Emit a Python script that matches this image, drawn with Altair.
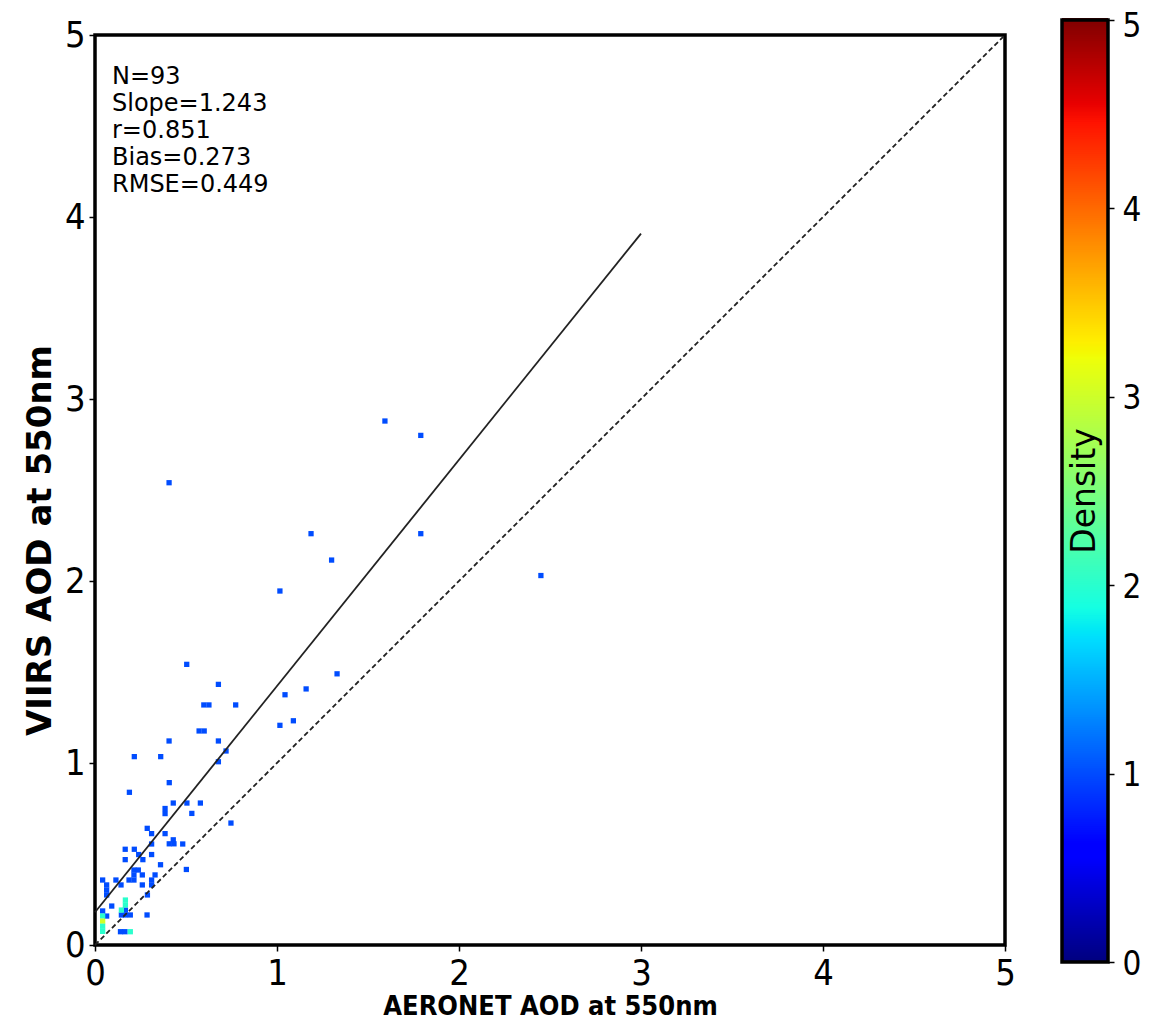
import altair as alt
import pandas as pd

# ---- data (cell centres of the 2-D density histogram) ----
cell_x = [1.593, 1.79, 0.407, 1.187, 1.79, 1.30, 2.45, 1.016, 0.504, 1.33,
          0.678, 1.16, 1.044, 0.598, 0.626, 0.773, 1.09, 1.016, 0.572, 0.600,
          0.678, 0.407, 0.72, 0.678, 0.216, 0.361, 0.408, 0.189, 0.43, 0.505,
          0.579, 0.385, 0.385, 0.532, 0.747, 0.287, 0.311, 0.385, 0.43, 0.408,
          0.434, 0.482, 0.311, 0.166, 0.216, 0.24, 0.311, 0.166, 0.263, 0.36,
          0.502, 0.214, 0.238, 0.214, 0.26, 0.33, 0.187, 0.214, 0.311, 0.311,
          0.26, 0.042, 0.064, 0.064, 0.064, 0.115, 0.143, 0.288, 0.092, 0.042,
          0.064, 0.167, 0.145, 0.167, 0.194, 0.286, 0.14, 0.165,
          0.042, 0.042, 0.042, 0.042, 0.167, 0.167, 0.145, 0.194]
cell_y = [2.879, 2.80, 2.54, 2.26, 2.26, 2.115, 2.03, 1.945, 1.542, 1.49,
          1.432, 1.407, 1.375, 1.319, 1.319, 1.319, 1.232, 1.207, 1.176, 1.176,
          1.121, 1.121, 1.066, 1.007, 1.035, 1.035, 0.892, 0.839, 0.78, 0.78,
          0.78, 0.75, 0.722, 0.723, 0.67, 0.641, 0.612, 0.612, 0.578, 0.556,
          0.556, 0.555, 0.555, 0.526, 0.526, 0.497, 0.497, 0.469, 0.469, 0.441,
          0.415, 0.412, 0.412, 0.385, 0.385, 0.385, 0.357, 0.357, 0.357, 0.33,
          0.33, 0.357, 0.33, 0.302, 0.275, 0.357, 0.33, 0.275, 0.214, 0.187,
          0.159, 0.192, 0.165, 0.165, 0.165, 0.165, 0.073, 0.073,
          0.159, 0.131, 0.103, 0.075, 0.247, 0.22, 0.192, 0.073]
cell_n = [1] * 78 + [2, 3, 2, 2, 2, 2, 2, 2]

fit_x = [0.0, 3.0]
fit_y = [0.18, 3.909]
one_x = [0.0, 5.0]
one_y = [0.0, 5.0]
tick_vals = [0, 1, 2, 3, 4, 5]
stat_lines = ["N=93", "Slope=1.243", "r=0.851", "Bias=0.273", "RMSE=0.449"]
BIN = 0.029

jet_domain = [0, 0.55, 0.625, 1.7, 1.75, 1.875, 3.2, 3.25, 3.3, 4.45, 4.55, 5]
jet_range = ["#000080", "#0000ff", "#0000ff", "#00dbff", "#00e6f7", "#15ffe2",
             "#efff08", "#f7f500", "#ffec00", "#ff1300", "#e80000", "#800000"]

FONT = "DejaVu Sans Condensed, DejaVu Sans"

jet = alt.Scale(domain=jet_domain, range=jet_range, type="linear", interpolate="rgb")
xs = alt.Scale(domain=[0, 5], nice=False, zero=False)
ys = alt.Scale(domain=[0, 5], nice=False, zero=False)

xaxis = alt.Axis(values=tick_vals, format="d", title="AERONET AOD at 550nm",
                 labelFontSize=36, labelFont=FONT, labelPadding=5, labelFlush=False,
                 titleFont=FONT, titleFontSize=27, titleFontWeight="bold",
                 titleY=69, titleBaseline="alphabetic")
yaxis = alt.Axis(values=tick_vals, format="d", title="VIIRS AOD at 550nm",
                 labelFontSize=36, labelFont=FONT, labelPadding=4, labelFlush=False,
                 titleFont="DejaVu Sans", titleFontSize=34, titleFontWeight="bold",
                 titleX=-45, titleY=505, titleBaseline="alphabetic", titleAngle=270)

cells_df = pd.DataFrame({"x": cell_x, "y": cell_y, "n": cell_n})
cells = alt.Chart(cells_df).transform_calculate(
    x0=f"datum.x - {BIN/2}", x1=f"datum.x + {BIN/2}",
    y0=f"datum.y - {BIN/2}", y1=f"datum.y + {BIN/2}",
).mark_rect().encode(
    x=alt.X("x0:Q", scale=xs, axis=xaxis),
    x2="x1:Q",
    y=alt.Y("y0:Q", scale=ys, axis=yaxis),
    y2="y1:Q",
    color=alt.Color("n:Q", scale=jet, legend=None),
)

one = alt.Chart(pd.DataFrame({"x": one_x, "y": one_y})).mark_line(
    color="#222222", strokeWidth=1.8, strokeDash=[5, 3]
).encode(x=alt.X("x:Q", axis=xaxis), y=alt.Y("y:Q", axis=yaxis))

fit = alt.Chart(pd.DataFrame({"x": fit_x, "y": fit_y})).mark_line(
    color="#222222", strokeWidth=1.8
).encode(x=alt.X("x:Q", axis=xaxis), y=alt.Y("y:Q", axis=yaxis))

stats = alt.Chart(pd.DataFrame({"t": ["\n".join(stat_lines)]})).mark_text(
    align="left", baseline="alphabetic", lineBreak="\n", lineHeight=27,
    fontSize=24, font="DejaVu Sans", color="black"
).encode(x=alt.value(17), y=alt.value(49), text="t:N")

main = alt.layer(cells, one, fit, stats)

# ---- colour bar ----
cb_scale = alt.Scale(domain=[0, 5], range=[927, -15], nice=False, zero=False)
cb_axis = alt.Axis(orient="right", offset=103, values=tick_vals, format="d",
                   title=None, labelFontSize=33, labelFont=FONT, labelPadding=8,
                   labelFlush=False,
                   labelOffset={"condition": {"test": "datum.value == 5", "value": 6},
                                "value": 2})

cbar = alt.Chart(alt.sequence(0, 5, 0.01, as_="v")).transform_calculate(
    v2="datum.v + 0.02"
).mark_rect().encode(
    x=alt.value(967), x2=alt.value(1013),
    y=alt.Y("v:Q", scale=cb_scale, axis=cb_axis),
    y2="v2:Q",
    color=alt.Color("v:Q", scale=jet, legend=None),
)
cb_outline = alt.Chart(pd.DataFrame({"v": [0.0], "v2": [5.0]})).mark_rect(
    filled=False, stroke="black", strokeWidth=3.5
).encode(x=alt.value(967), x2=alt.value(1013),
         y=alt.Y("v:Q", scale=cb_scale, axis=cb_axis), y2="v2:Q")
cb_text = alt.Chart(pd.DataFrame({"v": [2.5], "t": ["Density"]})).mark_text(
    angle=270, fontSize=33, font="DejaVu Sans", align="center", baseline="middle",
    color="black"
).encode(x=alt.value(990), y=alt.Y("v:Q", scale=cb_scale, axis=cb_axis), text="t:N")

colorbar = alt.layer(cbar, cb_outline, cb_text)

chart = alt.layer(main, colorbar).resolve_scale(y="independent").properties(
    width=910, height=910,
    autosize=alt.AutoSizeParams(type="none"),
    padding={"left": 87, "top": 27, "right": 145, "bottom": 74},
).configure_view(
    stroke="black", strokeWidth=3.5
).configure_axis(
    domain=False, grid=False, ticks=True, tickColor="black", tickWidth=1.5,
    tickSize=6, labelColor="black", titleColor="black"
)

chart.save("out.html", embed_options={"renderer": "svg", "actions": False})
